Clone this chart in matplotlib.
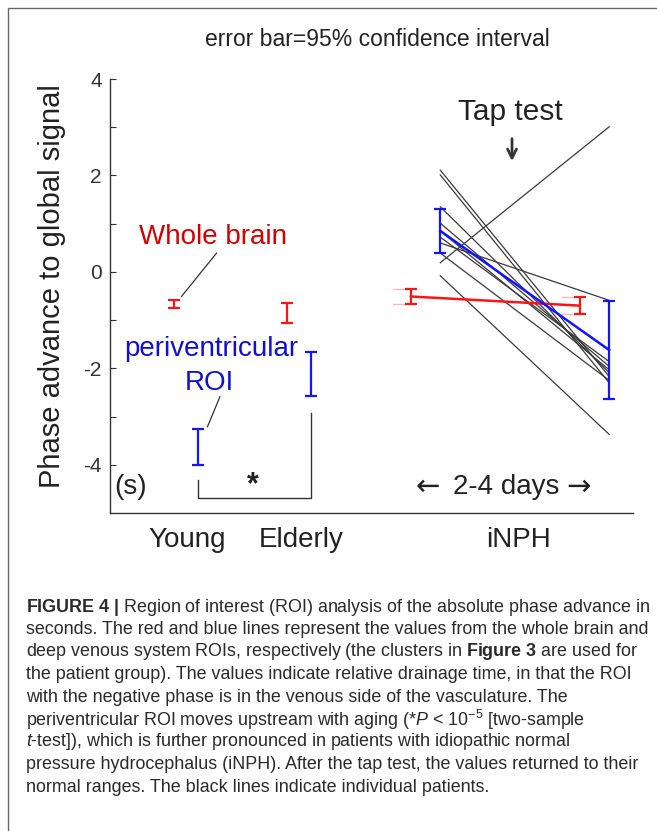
import matplotlib.pyplot as plt
from matplotlib import font_manager
from matplotlib.patches import Rectangle

plt.rcParams['font.family'] = ['Liberation Sans', 'DejaVu Sans']

# caption font: condensed if available
installed = {f.name for f in font_manager.fontManager.ttflist}
if 'Liberation Sans Narrow' in installed:
    cap_family, cap_size = 'Liberation Sans Narrow', 15.4
else:
    cap_family, cap_size = 'Liberation Sans', 12.85
plt.rcParams['mathtext.fontset'] = 'custom'
plt.rcParams['mathtext.rm'] = cap_family
plt.rcParams['mathtext.it'] = cap_family + ':italic'
plt.rcParams['mathtext.bf'] = cap_family + ':bold'

groups = ['Young', 'Elderly', 'iNPH']
# order: young, elderly, iNPH before tap test, iNPH 2-4 days after
whole_mean = [-0.67, -0.85, -0.51, -0.70]
whole_ci = [0.08, 0.21, 0.16, 0.17]
peri_mean = [-3.63, -2.12, 0.85, -1.62]
peri_ci = [0.37, 0.46, 0.45, 1.02]
# individual iNPH patients (periventricular ROI)
patient_pre = [2.11, 2.01, 1.35, 1.01, 0.85, 0.72, 0.60, 0.39, 0.19, -0.08]
patient_post = [-2.17, -2.30, -2.09, -1.96, -2.03, -1.86, -0.59, -2.25, 3.01, -3.37]

caption = [
    r"$\mathbf{FIGURE\ 4\ |}$ Region of interest (ROI) analysis of the absolute phase advance in",
    "seconds. The red and blue lines represent the values from the whole brain and",
    r"deep venous system ROIs, respectively (the clusters in $\mathbf{Figure\ 3}$ are used for",
    "the patient group). The values indicate relative drainage time, in that the ROI",
    "with the negative phase is in the venous side of the vasculature. The",
    r"periventricular ROI moves upstream with aging (*$P$ < 10$^{-5}$ [two-sample",
    r"$t$-test]), which is further pronounced in patients with idiopathic normal",
    "pressure hydrocephalus (iNPH). After the tap test, the values returned to their",
    "normal ranges. The black lines indicate individual patients.",
]

centers = [1, 2, 3.12, 4.615]
offsets = [0.105, 0.105, 0.13, 0.13]
red_x = [c - o for c, o in zip(centers, offsets)]
blue_x = [c + o for c, o in zip(centers, offsets)]

red = '#ff1414'
blue = '#1414ff'
dark = '#333333'
ink = '#222222'

fig = plt.figure(figsize=(6.57, 8.31), dpi=100)
ax = fig.add_axes([0.1674, 0.3827, 0.7961, 0.5222])

# patient lines
for pre, post in zip(patient_pre, patient_post):
    ax.plot([blue_x[2], blue_x[3]], [pre, post], color='#3a3a3a', lw=0.9)

# faint ghost caps next to the iNPH whole-brain bars
for i in (2, 3):
    for s in (-1, 1):
        y = whole_mean[i] + s * whole_ci[i]
        ax.plot([red_x[i] - 0.16, red_x[i] - 0.04], [y, y], color='#f6b8b8', lw=1)

ax.plot(red_x[2:], whole_mean[2:], color=red, lw=1.8)
ax.plot(blue_x[2:], peri_mean[2:], color=blue, lw=1.8)
ax.errorbar(red_x, whole_mean, yerr=whole_ci, fmt='none', ecolor=red,
            elinewidth=1.6, capsize=4, capthick=1.6)
ax.errorbar(blue_x, peri_mean, yerr=peri_ci, fmt='none', ecolor=blue,
            elinewidth=1.6, capsize=4, capthick=1.6)

ax.set_xlim(0.327, 4.956)
ax.set_ylim(-5, 4)
ax.spines[['top', 'right']].set_visible(False)
for sp in ('left', 'bottom'):
    ax.spines[sp].set_color(dark)
    ax.spines[sp].set_linewidth(1)
ax.set_xticks([])
ax.set_yticks(range(-4, 5))
ax.set_yticklabels([str(v) if v % 2 == 0 else '' for v in range(-4, 5)])
ax.tick_params(axis='y', direction='in', length=4, width=0.8, labelsize=15,
               pad=6, colors=dark)

for xpos, name in zip([1.01, 2.02, 3.94], groups):
    ax.text(xpos, -5.56, name, ha='center', va='center', fontsize=20, color=ink)

# annotations
ax.text(1.24, 0.72, 'Whole brain', color='#d00000', fontsize=20, ha='center', va='center')
ax.plot([1.27, 0.96], [0.39, -0.51], color=dark, lw=0.9)
ax.text(1.22, -1.59, 'periventricular', color='#1010d0', fontsize=20, ha='center', va='center')
ax.text(1.21, -2.30, 'ROI', color='#1010d0', fontsize=20, ha='center', va='center')
ax.plot([1.30, 1.19], [-2.59, -3.21], color=dark, lw=0.9)

ax.plot([blue_x[0], blue_x[0], blue_x[1], blue_x[1]], [-4.31, -4.68, -4.68, -2.92],
        color=dark, lw=1)
ax.text(1.59, -4.42, '*', fontsize=22, fontweight='bold', ha='center', va='center', color=ink)
ax.text(0.51, -4.47, '(s)', fontsize=20, ha='center', va='center', color=ink)
ax.text(3.14, -4.45, '\u2190', fontsize=21, family='DejaVu Sans', ha='center', va='center', color=ink)
ax.text(3.83, -4.47, '2-4 days', fontsize=20, ha='center', va='center', color=ink)
ax.text(4.47, -4.45, '\u2192', fontsize=21, family='DejaVu Sans', ha='center', va='center', color=ink)

ax.text(3.87, 3.31, 'Tap test', fontsize=21.5, ha='center', va='center', color=ink)
ax.annotate('', xy=(3.885, 2.24), xytext=(3.885, 2.82),
            arrowprops=dict(arrowstyle='->', lw=2, color=dark, mutation_scale=16))

fig.text(0.575, 0.952, 'error bar=95% confidence interval', fontsize=16.5,
         ha='center', va='center', color=ink)
fig.text(52 / 657, 0.656, 'Phase advance to global signal', fontsize=21,
         rotation=90, ha='center', va='center', color=ink)

for i, line in enumerate(caption):
    fig.text(26 / 657, 1 - (607 + 22.5 * i) / 831, line, fontsize=cap_size,
             family=cap_family, ha='left', va='center', color='#2a2a2a')

fig.add_artist(Rectangle((8 / 657, -0.05), 1.2, 1.05 - 8 / 831, transform=fig.transFigure,
                         fill=False, ec='#666666', lw=1))

fig.savefig('out.png', dpi=100)
